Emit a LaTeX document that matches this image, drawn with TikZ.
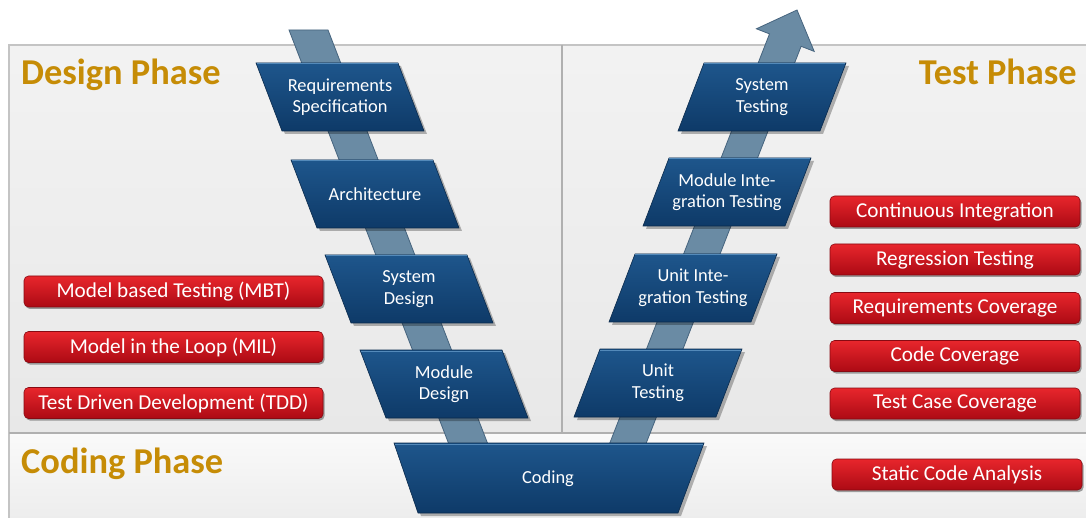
\documentclass[tikz,border=0pt]{standalone}
\usepackage{fontspec}
\setmainfont{Carlito}
\usetikzlibrary{shadows}

\definecolor{phase}{RGB}{198,140,6}
\definecolor{bluetop}{RGB}{30,86,140}
\definecolor{bluebot}{RGB}{14,58,104}
\definecolor{blueedge}{RGB}{10,42,76}
\definecolor{bluehl}{RGB}{84,138,186}
\definecolor{bandfill}{RGB}{106,139,164}
\definecolor{bandedge}{RGB}{70,100,126}
\definecolor{redtop}{RGB}{232,38,44}
\definecolor{redbot}{RGB}{172,10,20}
\definecolor{rededge}{RGB}{135,10,18}
\definecolor{panelline}{RGB}{196,196,196}
\definecolor{divider}{RGB}{176,176,176}

% parallelogram leaning left-to-right (design side)
\newcommand\designbox[4]{%
  \begin{scope}[shift={(#2,#3)}]
    \fill[vshadow] (-81,-31) -- (61,-31) -- (87,37) -- (-55,37) -- cycle;
    \path[vshape] (-84,-34) -- (58,-34) -- (84,34) -- (-58,34) -- cycle;
    \draw[bluehl,line width=1pt] (-83,-33) -- (57.6,-33);
    \node[boxtext] (#1) at (0,0) {#4};
  \end{scope}}

% parallelogram leaning right-to-left (test side)
\newcommand\testbox[4]{%
  \begin{scope}[shift={(#2,#3)}]
    \fill[vshadow] (-55,-31) -- (87,-31) -- (61,37) -- (-81,37) -- cycle;
    \path[vshape] (-58,-34) -- (84,-34) -- (58,34) -- (-84,34) -- cycle;
    \draw[bluehl,line width=1pt] (-57.6,-33) -- (83,-33);
    \node[boxtext] (#1) at (0,0) {#4};
  \end{scope}}

\begin{document}
\begin{tikzpicture}[x=1pt,y=-1pt,
  phasetitle/.style={text=phase,font=\fontsize{36.4}{42}\selectfont\bfseries,inner sep=0pt},
  boxtext/.style={text=white,font=\fontsize{18.4}{21.5}\selectfont,align=center,inner sep=0pt},
  redbox/.style={rounded corners=4.5pt,top color=redtop,bottom color=redbot,draw=rededge,
    line width=0.6pt,text=white,font=\fontsize{21.2}{24}\selectfont,inner sep=0pt,
    minimum height=31pt,
    drop shadow={shadow xshift=1.5pt,shadow yshift=-2pt,opacity=0.35,fill=black}},
  vshape/.style={top color=bluetop,bottom color=bluebot,draw=blueedge,line width=0.6pt},
  vshadow/.style={fill=black,opacity=0.28},
  band/.style={fill=bandfill,draw=bandedge,line width=0.8pt},
]
\useasboundingbox (0,0) rectangle (1086,518);
\fill[white] (0,0) rectangle (1086,518);

% panels
\fill[top color=black!5,bottom color=black!9] (9,45) rectangle (1086,433);
\fill[top color=black!2,bottom color=black!7] (9,433) rectangle (1086,518);
\draw[panelline,line width=1.6pt] (9,518) -- (9,45) -- (1086,45);
\draw[divider,line width=1.8pt] (562,45) -- (562,433);
\draw[divider,line width=1.8pt] (9,433) -- (1086,433);

% the V: descending band and rising arrow
\path[band] (289,30) -- (328,30) -- (494,460) -- (455,460) -- cycle;
\path[band] (605.6,453.8) -- (769.5,33.9) -- (756.4,28.8) -- (797,10)
  -- (814.2,51.4) -- (801.1,46.3) -- (637.2,466.2) -- cycle;

% design side
\designbox{req}{340}{97}{Requirements\\Specification}
\designbox{arch}{375}{194}{Architecture}
\designbox{sysdes}{409}{289}{System\\Design}
\designbox{moddes}{444}{384}{Module\\Design}

% test side
\testbox{systest}{762}{97}{System\\Testing}
\testbox{modint}{727}{192}{Module Inte-\\gration Testing}
\testbox{unitint}{693}{288}{Unit Inte-\\gration Testing}
\testbox{unittest}{658}{383}{Unit\\Testing}

% coding
\fill[vshadow] (397,446) -- (707,446) -- (681,516) -- (421,516) -- cycle;
\path[vshape] (394,443) -- (704,443) -- (678,513) -- (418,513) -- cycle;
\draw[bluehl,line width=1pt] (395,444) -- (703,444);
\node[boxtext] (coding) at (548,479) {Coding};

% phase titles
\node[phasetitle,anchor=base west] (design) at (21,85) {Design Phase};
\node[phasetitle,anchor=base east] (test) at (1077,85) {Test Phase};
\node[phasetitle,anchor=base west] (codingph) at (21,473) {Coding Phase};

% methods
\node[redbox,minimum width=299pt] (mbt) at (173.5,291.5) {Model based Testing (MBT)};
\node[redbox,minimum width=299pt] (mil) at (173.5,347) {Model in the Loop (MIL)};
\node[redbox,minimum width=299pt] (tdd) at (173.5,403) {Test Driven Development (TDD)};

\node[redbox,minimum width=250pt] (ci) at (955,211.5) {Continuous Integration};
\node[redbox,minimum width=250pt] (rt) at (955,259.5) {Regression Testing};
\node[redbox,minimum width=250pt] (rc) at (955,308) {Requirements Coverage};
\node[redbox,minimum width=250pt] (cc) at (955,356) {Code Coverage};
\node[redbox,minimum width=250pt] (tcc) at (955,403.5) {Test Case Coverage};
\node[redbox,minimum width=250pt] (sca) at (957,474.5) {Static Code Analysis};
\end{tikzpicture}
\end{document}
